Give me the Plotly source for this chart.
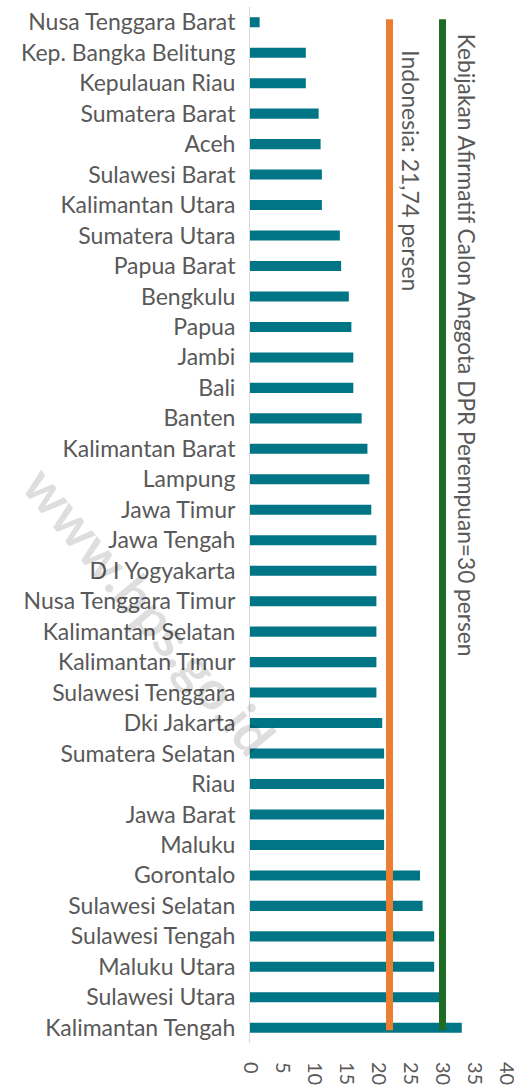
import plotly.graph_objects as go

provinces = [
    "Nusa Tenggara Barat", "Kep. Bangka Belitung", "Kepulauan Riau", "Sumatera Barat",
    "Aceh", "Sulawesi Barat", "Kalimantan Utara", "Sumatera Utara", "Papua Barat",
    "Bengkulu", "Papua", "Jambi", "Bali", "Banten", "Kalimantan Barat", "Lampung",
    "Jawa Timur", "Jawa Tengah", "D I Yogyakarta", "Nusa Tenggara Timur",
    "Kalimantan Selatan", "Kalimantan Timur", "Sulawesi Tenggara", "Dki Jakarta",
    "Sumatera Selatan", "Riau", "Jawa Barat", "Maluku", "Gorontalo",
    "Sulawesi Selatan", "Sulawesi Tengah", "Maluku Utara", "Sulawesi Utara",
    "Kalimantan Tengah",
]
values = [
    1.5, 8.7, 8.7, 10.7,
    11.0, 11.2, 11.2, 14.0, 14.2,
    15.4, 15.8, 16.1, 16.1, 17.4, 18.3, 18.6,
    18.9, 19.7, 19.7, 19.7,
    19.7, 19.7, 19.7, 20.6,
    20.9, 20.9, 20.9, 20.9, 26.5,
    26.9, 28.7, 28.7, 29.5,
    33.0,
]
indonesia_avg = 21.74
affirmative_target = 30
x_ticks = [0, 5, 10, 15, 20, 25, 30, 35, 40]

grey = "#595959"
n = len(provinces)

fig = go.Figure()
fig.add_trace(go.Bar(
    x=values, y=list(range(n)), orientation="h",
    marker=dict(color="#007585", line=dict(width=0)),
    width=0.33,
))

fig.add_shape(type="line", xref="x", yref="y", x0=indonesia_avg, x1=indonesia_avg,
              y0=-0.1, y1=n - 1 + 0.08, line=dict(color="#ED7D31", width=7))
fig.add_shape(type="line", xref="x", yref="y", x0=affirmative_target, x1=affirmative_target,
              y0=-0.1, y1=n - 1 + 0.08, line=dict(color="#1E6B24", width=7))

fig.add_annotation(x=indonesia_avg, y=0.85, xref="x", yref="y",
                   text="Indonesia: 21,74 persen", textangle=90, showarrow=False,
                   xanchor="left", yanchor="top", xshift=6,
                   font=dict(family="Lato", size=23, color=grey))
fig.add_annotation(x=affirmative_target, y=0.3, xref="x", yref="y",
                   text="Kebijakan Afirmatif Calon Anggota DPR Perempuan=30 persen",
                   textangle=90, showarrow=False, xanchor="left", yanchor="top", xshift=8,
                   font=dict(family="Lato", size=22.7, color=grey))

pw = 514 - 250 - 7
ph = 1091 - 7 - 48
fig.add_annotation(x=(150 - 250) / pw, y=(1091 - 48 - 610) / ph, xref="paper", yref="paper",
                   xanchor="center", yanchor="middle",
                   text="<b>www.bps.go.id</b>", textangle=50, showarrow=False,
                   font=dict(family="Lato", size=54, color="rgba(0,0,0,0.13)"))

fig.update_layout(
    width=514, height=1091,
    margin=dict(l=250, r=7, t=7, b=48, autoexpand=False),
    plot_bgcolor="white", paper_bgcolor="white",
    showlegend=False,
)
fig.update_xaxes(range=[0, 40.05], tickvals=x_ticks, tickangle=90, showgrid=False,
                 zeroline=False, showline=False, automargin=False, ticks="",
                 ticklabelstandoff=18, ticklabeloverflow="allow",
                 tickfont=dict(family="Lato", size=20, color=grey))
fig.update_yaxes(range=[n - 0.5, -0.5], tickmode="array", tickvals=list(range(n)),
                 ticktext=provinces, automargin=False,
                 showgrid=False, showline=True, linecolor="#D9D9D9", linewidth=1,
                 zeroline=False, ticks="", ticklabelstandoff=9,
                 tickfont=dict(family="Lato", size=23, color=grey))

fig.write_html("out.html", config={"displayModeBar": False},
               post_script="document.body.style.margin='0';")
